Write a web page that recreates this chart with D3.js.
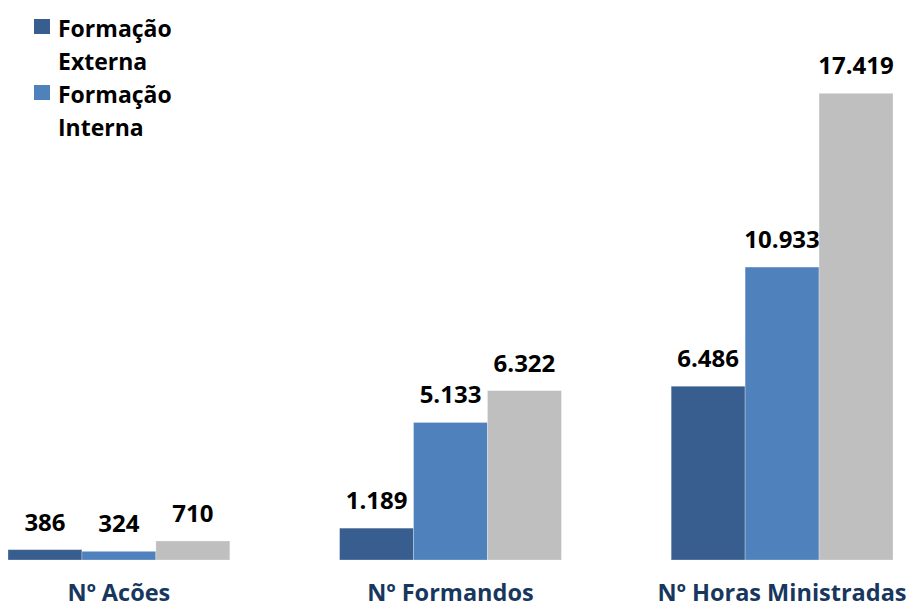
<!DOCTYPE html>
<html>
<head>
<meta charset="utf-8">
<script src="https://cdn.jsdelivr.net/npm/d3@7"></script>
<style>
  html, body { margin: 0; padding: 0; background: #ffffff; }
  svg { display: block; }
  text { font-family: "Open Sans", Lato, "DejaVu Sans", sans-serif; font-weight: 700; }
</style>
</head>
<body>
<svg id="chart" width="909" height="607"></svg>
<script>
// Indicadores de formação
const categories = ["Nº Acões", "Nº Formandos", "Nº Horas Ministradas"];
const seriesNames = ["Formação Externa", "Formação Interna", "Total"];
const externa = [386, 1189, 6486];
const interna = [324, 5133, 10933];
const total = [710, 6322, 17419];
const valueLabels = [
  ["386", "1.189", "6.486"],
  ["324", "5.133", "10.933"],
  ["710", "6.322", "17.419"]
];
const legendEntries = [["Formação", "Externa"], ["Formação", "Interna"]];
const colors = ["#375e8f", "#4f81bd", "#bfbfbf"];

const seriesValues = [externa, interna, total];
const svg = d3.select("#chart");

const x0 = d3.scaleBand()
  .domain(categories)
  .range([8, 893])
  .paddingInner(0.331)
  .paddingOuter(0);

const x1 = d3.scaleBand()
  .domain(seriesNames)
  .range([0, x0.bandwidth()])
  .padding(0);

const y = d3.scaleLinear()
  .domain([0, 17419])
  .range([560, 93.3]);

const groups = svg.append("g").selectAll("g")
  .data(categories)
  .join("g")
  .attr("transform", d => `translate(${x0(d)},0)`);

groups.each(function(cat, ci) {
  const g = d3.select(this);
  seriesNames.forEach((s, si) => {
    const v = seriesValues[si][ci];
    g.append("rect")
      .attr("x", x1(s))
      .attr("y", y(v))
      .attr("width", x1.bandwidth())
      .attr("height", y(0) - y(v))
      .attr("fill", colors[si])
      .attr("stroke", "rgba(255,255,255,0.35)")
      .attr("stroke-width", 0.8);
    g.append("text")
      .attr("x", x1(s) + x1.bandwidth() / 2)
      .attr("y", y(v) - 19)
      .attr("text-anchor", "middle")
      .attr("font-size", 24)
      .attr("fill", "#000000")
      .text(valueLabels[si][ci]);
  });
});

// Category axis labels
svg.append("g").selectAll("text")
  .data(categories)
  .join("text")
  .attr("x", d => x0(d) + x0.bandwidth() / 2)
  .attr("y", 601)
  .attr("text-anchor", "middle")
  .attr("font-size", 23.5)
  .attr("fill", "#17375e")
  .text(d => d);

// Legend
const legend = svg.append("g");
legendEntries.forEach((lines, i) => {
  const top = 19 + i * 66;
  legend.append("rect")
    .attr("x", 34).attr("y", top)
    .attr("width", 16).attr("height", 15)
    .attr("fill", colors[i]);
  lines.forEach((t, j) => {
    legend.append("text")
      .attr("x", 58)
      .attr("y", top + 18 + j * 33)
      .attr("font-size", 23)
      .attr("fill", "#000000")
      .text(t);
  });
});
</script>
</body>
</html>
